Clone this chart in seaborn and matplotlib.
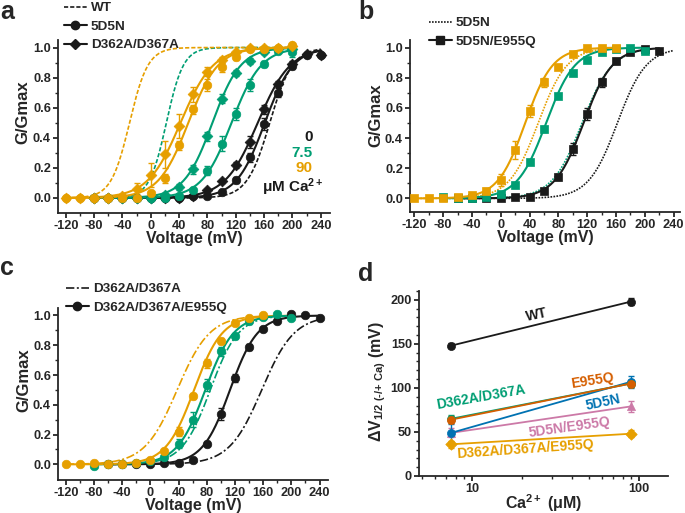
import numpy as np
import matplotlib
matplotlib.use("Agg")
import matplotlib.pyplot as plt
import seaborn as sns
from matplotlib.lines import Line2D
from matplotlib.ticker import MultipleLocator, FixedLocator, FixedFormatter, NullFormatter, LogLocator

# -----------------------------------------------
# colours
# -----------------------------------------------
ORANGE = "#E69F00"
GREEN = "#009E73"
BLACK = "#1a1a1a"
VERMIL = "#D55E00"
BLUE = "#0072B2"
PINK = "#CC79A7"

# -----------------------------------------------
# panel a data (G/Gmax vs voltage)
# -----------------------------------------------
a_v_orange = [-120, -100, -80, -60, -40, -20, 0, 20, 40, 60, 80, 100, 120, 140, 160, 180, 200]
a_d362_90 = [0, 0, 0, 0, 0.01, 0.06, 0.15, 0.29, 0.48, 0.69, 0.84, 0.92, 0.97, 1.0, 1.0, 1.0, 1.01]
a_d362_90_err = [0, 0, 0, 0, 0.01, 0.04, 0.08, 0.09, 0.08, 0.05, 0.03, 0.02, 0.01, 0, 0, 0, 0]
a_5d5n_90 = [0, 0, 0, 0, 0, 0, 0.03, 0.13, 0.35, 0.59, 0.75, 0.87, 0.94, 0.99, 0.99, 1.0, 1.02]
a_5d5n_90_err = [0, 0, 0, 0, 0, 0, 0.01, 0.03, 0.03, 0.03, 0.04, 0.03, 0.02, 0, 0, 0, 0]

a_v_green = [-80, -60, -40, -20, 0, 20, 40, 60, 80, 100, 120, 140, 160, 180, 200]
a_d362_7 = [0, 0, 0, 0, 0, 0.02, 0.07, 0.19, 0.41, 0.66, 0.83, 0.91, 0.97, 0.99, 0.99]
a_d362_7_err = [0, 0, 0, 0, 0, 0.01, 0.02, 0.03, 0.03, 0.03, 0.02, 0.02, 0.01, 0.01, 0.01]
a_5d5n_7 = [0, 0, 0, 0, 0, 0, 0.01, 0.05, 0.18, 0.36, 0.56, 0.75, 0.89, 0.98, 0.97]
a_5d5n_7_err = [0, 0, 0, 0, 0, 0, 0.01, 0.01, 0.03, 0.05, 0.04, 0.04, 0.02, 0.01, 0.03]

a_v_black = [-80, -60, -40, -20, 0, 20, 40, 60, 80, 100, 120, 140, 160, 180, 200, 220, 240]
a_d362_0 = [0, 0, 0, 0, 0, 0, 0, 0.01, 0.05, 0.11, 0.22, 0.37, 0.59, 0.76, 0.89, 0.96, 0.95]
a_d362_0_err = [0, 0, 0, 0, 0, 0, 0, 0, 0.01, 0.01, 0.02, 0.04, 0.03, 0.02, 0.02, 0.01, 0.01]
a_5d5n_0 = [0, 0, 0, 0, 0, 0, 0, 0.01, 0.01, 0.04, 0.12, 0.27, 0.49, 0.70, 0.88, 0.95, 0.95]
a_5d5n_0_err = [0, 0, 0, 0, 0, 0, 0, 0, 0.01, 0.01, 0.02, 0.03, 0.04, 0.03, 0.02, 0.01, 0.01]

# Boltzmann fit parameters: (V1/2 in mV, slope in mV)
a_fit_d362 = [(151, 23), (87, 20), (42, 23)]      # 0, 7.5, 90 uM Ca
a_fit_5d5n = [(161, 20), (114, 21), (53, 21)]
a_fit_wt = [(168, 16), (22, 12), (-30, 13)]

# -----------------------------------------------
# panel b data
# -----------------------------------------------
b_v_orange = [-120, -100, -80, -60, -40, -20, 0, 20, 40, 60, 80, 100, 120, 140, 160]
b_e955_90 = [0, 0, 0, 0.01, 0.02, 0.05, 0.12, 0.32, 0.58, 0.77, 0.87, 0.96, 1.0, 1.0, 1.0]
b_e955_90_err = [0, 0, 0, 0, 0.01, 0.02, 0.04, 0.06, 0.04, 0.03, 0.01, 0.01, 0, 0, 0]
b_v_green = [-80, -60, -40, -20, 0, 20, 40, 60, 80, 100, 120, 140, 160, 180, 200]
b_e955_7 = [0.01, 0, 0, 0.01, 0.03, 0.09, 0.24, 0.46, 0.68, 0.83, 0.92, 0.97, 0.99, 1.0, 0.98]
b_e955_7_err = [0, 0, 0, 0, 0.01, 0.01, 0.01, 0.02, 0.01, 0.01, 0.01, 0.01, 0, 0, 0]
b_v_black = [-60, -40, -20, 0, 20, 40, 60, 80, 100, 120, 140, 160, 180, 200, 220]
b_e955_0 = [0, 0, 0, 0, 0.01, 0.01, 0.05, 0.14, 0.33, 0.56, 0.77, 0.91, 0.97, 0.99, 0.98]
b_e955_0_err = [0, 0, 0, 0, 0, 0, 0.01, 0.02, 0.04, 0.04, 0.03, 0.02, 0.01, 0.01, 0.01]

b_fit_e955 = [(115, 20), (63, 20), (34, 19)]
b_fit_5d5n = [(162, 20), (113, 21), (52, 20)]

# -----------------------------------------------
# panel c data
# -----------------------------------------------
c_v_orange = [-120, -100, -80, -60, -40, -20, 0, 20, 40, 60, 80, 100, 120, 140, 160]
c_tri_90 = [0, 0, 0.01, 0, 0, 0.01, 0.03, 0.09, 0.22, 0.46, 0.68, 0.83, 0.95, 0.98, 1.0]
c_tri_90_err = [0, 0, 0, 0, 0, 0, 0.01, 0.01, 0.03, 0.02, 0.03, 0.02, 0.01, 0.01, 0]
c_v_green = [-80, -60, -40, -20, 0, 20, 40, 60, 80, 100, 120, 140, 160, 180, 200]
c_tri_7 = [-0.01, 0, 0, 0.01, 0.02, 0.05, 0.14, 0.30, 0.53, 0.76, 0.86, 0.96, 0.99, 1.01, 0.98]
c_tri_7_err = [0, 0, 0, 0, 0.01, 0.01, 0.03, 0.05, 0.04, 0.03, 0.02, 0.02, 0.01, 0.01, 0.01]
c_v_black = [-60, -40, -20, 0, 20, 40, 60, 80, 100, 120, 140, 160, 180, 200, 220, 240]
c_tri_0 = [0, 0, 0, 0, 0.01, 0.01, 0.03, 0.14, 0.34, 0.58, 0.79, 0.91, 0.96, 1.01, 1.0, 0.98]
c_tri_0_err = [0, 0, 0, 0, 0, 0, 0.01, 0.02, 0.04, 0.03, 0.02, 0.01, 0.01, 0.01, 0.01, 0.01]

c_fit_tri = [(113, 19.5), (78, 20), (62, 20)]
c_fit_d362 = [(158, 23), (85, 20), (38, 23)]

# -----------------------------------------------
# panel d data (delta V1/2 vs Ca)
# -----------------------------------------------
ca_conc = [7.5, 90]
d_names = ["WT", "D362A/D367A", "E955Q", "5D5N", "5D5N/E955Q", "D362A/D367A/E955Q"]
d_wt = [148, 198]
d_d362 = [65, 105]
d_e955 = [64, 105]
d_5d5n = [49, 107]
d_5d5n_e955 = [49, 79]
d_tri = [36, 48]
d_wt_err = [3, 4]
d_d362_err = [4, 4]
d_e955_err = [4, 4]
d_5d5n_err = [10, 7]
d_5d5n_e955_err = [5, 6]
d_tri_err = [4, 4]


def boltz(v, vh, k):
    return 1.0 / (1.0 + np.exp(-(v - vh) / k))


sns.set_style("ticks")
plt.rcParams["font.family"] = ["Liberation Sans", "DejaVu Sans"]
plt.rcParams["font.weight"] = "bold"
plt.rcParams["axes.labelweight"] = "bold"
plt.rcParams["axes.unicode_minus"] = False
plt.rcParams["mathtext.fontset"] = "custom"
plt.rcParams["mathtext.rm"] = "Liberation Sans:bold"
plt.rcParams["mathtext.bf"] = "Liberation Sans:bold"
plt.rcParams["mathtext.it"] = "Liberation Sans:bold"
plt.rcParams["mathtext.default"] = "rm"

TICK_FS = 9.2
LABEL_FS = 11.5
LEG_FS = 9.7

fig = plt.figure(figsize=(6.85, 5.13), dpi=100)
ax_a = fig.add_axes([58 / 685, 1 - 213 / 513, 272 / 685, 173 / 513])
ax_b = fig.add_axes([410 / 685, 1 - 212 / 513, 270 / 685, 172 / 513])
ax_c = fig.add_axes([58 / 685, 1 - 480 / 513, 270 / 685, 172 / 513])
ax_d = fig.add_axes([419 / 685, 1 - 476 / 513, 249 / 685, 185 / 513])


def style_axis(ax):
    sns.despine(ax=ax)
    for s in ["left", "bottom"]:
        ax.spines[s].set_linewidth(1.3)
    ax.tick_params(which="major", direction="out", length=3.6, width=1.3, labelsize=TICK_FS, pad=1.5)
    ax.tick_params(which="minor", direction="out", length=2.2, width=1.0)
    for lab in ax.get_xticklabels() + ax.get_yticklabels():
        lab.set_fontweight("bold")


def style_gv(ax, xlim, ylim, ylab_xy):
    ax.set_xlim(*xlim)
    ax.set_ylim(*ylim)
    ax.xaxis.set_major_locator(MultipleLocator(40))
    ax.xaxis.set_minor_locator(MultipleLocator(20))
    ax.yaxis.set_major_locator(FixedLocator([0, 0.2, 0.4, 0.6, 0.8, 1.0]))
    ax.yaxis.set_minor_locator(FixedLocator([0.1, 0.3, 0.5, 0.7, 0.9]))
    ax.set_yticklabels(["0.0", "0.2", "0.4", "0.6", "0.8", "1.0"])
    ax.set_xlabel("Voltage (mV)", fontsize=LABEL_FS, fontweight="bold", labelpad=-0.5)
    ax.set_ylabel("G/Gmax", fontsize=LABEL_FS + 0.5, fontweight="bold")
    ax.yaxis.set_label_coords(*ylab_xy)
    style_axis(ax)


def fit_line(ax, vrange, vh, k, color, lw=1.5, dashes=None):
    vv = np.linspace(vrange[0], vrange[1], 300)
    sns.lineplot(x=vv, y=boltz(vv, vh, k), color=color, linewidth=lw, ax=ax, zorder=2)
    line = ax.lines[-1]
    if dashes is not None:
        line.set_dashes(dashes)


def points(ax, v, g, err, color, marker, s=38):
    ax.errorbar(v, g, yerr=err, fmt="none", ecolor=color, elinewidth=1.0, capsize=2, capthick=1.0, zorder=3)
    sns.scatterplot(x=v, y=g, color=color, marker=marker, s=s, edgecolor=color, linewidth=0.5, ax=ax, zorder=4)


def top_legend(ax, handles, labels, x, y):
    ax.legend(handles, labels, loc="upper left", bbox_to_anchor=(x / 685, 1 - y / 513),
              bbox_transform=fig.transFigure, frameon=False, handlelength=1.7, handletextpad=0.3,
              labelspacing=0.45, borderpad=0, borderaxespad=0, prop=dict(weight="bold", size=LEG_FS))


# -----------------------------------------------
# panel a
# -----------------------------------------------
cols = [BLACK, GREEN, ORANGE]
ranges_a = [(-80, 240), (-80, 200), (-120, 200)]
for (vh, k), c, r in zip(a_fit_wt, cols, ranges_a):
    fit_line(ax_a, r, vh, k, c, lw=1.2, dashes=(2.5, 1.2))
for (vh, k), c, r in zip(a_fit_d362, cols, ranges_a):
    fit_line(ax_a, r, vh, k, c)
for (vh, k), c, r in zip(a_fit_5d5n, cols, ranges_a):
    fit_line(ax_a, r, vh, k, c)
points(ax_a, a_v_black, a_5d5n_0, a_5d5n_0_err, BLACK, "o")
points(ax_a, a_v_black, a_d362_0, a_d362_0_err, BLACK, "D", s=30)
points(ax_a, a_v_green, a_5d5n_7, a_5d5n_7_err, GREEN, "o")
points(ax_a, a_v_green, a_d362_7, a_d362_7_err, GREEN, "D", s=30)
points(ax_a, a_v_orange, a_5d5n_90, a_5d5n_90_err, ORANGE, "o")
points(ax_a, a_v_orange, a_d362_90, a_d362_90_err, ORANGE, "D", s=30)
style_gv(ax_a, (-131, 253), (-0.1, 1.05), (-0.1, 0.58))

fig.text(313 / 685, 1 - 137 / 513, "0", ha="right", va="center", color=BLACK, fontsize=11, fontweight="bold")
fig.text(313 / 685, 1 - 153 / 513, "7.5", ha="right", va="center", color=GREEN, fontsize=11, fontweight="bold")
fig.text(313 / 685, 1 - 168 / 513, "90", ha="right", va="center", color=ORANGE, fontsize=11, fontweight="bold")
fig.text(324 / 685, 1 - 192 / 513, "\u03bcM Ca$^{2+}$", ha="right", va="baseline", color=BLACK, fontsize=11, fontweight="bold")

leg_a = [Line2D([], [], color=BLACK, lw=1.2, dashes=(2.5, 1.2)),
         Line2D([], [], color=BLACK, lw=1.5, marker="o", ms=6),
         Line2D([], [], color=BLACK, lw=1.5, marker="D", ms=5.5)]
top_legend(ax_a, leg_a, ["WT", "5D5N", "D362A/D367A"], 64, 2)

# -----------------------------------------------
# panel b
# -----------------------------------------------
ranges_b = [(-60, 240), (-80, 200), (-120, 160)]
for (vh, k), c, r in zip(b_fit_5d5n, cols, ranges_b):
    fit_line(ax_b, r, vh, k, c, lw=1.2, dashes=(1, 0.8))
for (vh, k), c, r in zip(b_fit_e955, cols, ranges_b):
    fit_line(ax_b, (r[0], min(r[1], 220)), vh, k, c)
points(ax_b, b_v_black, b_e955_0, b_e955_0_err, BLACK, "s", s=32)
points(ax_b, b_v_green, b_e955_7, b_e955_7_err, GREEN, "s", s=32)
points(ax_b, b_v_orange, b_e955_90, b_e955_90_err, ORANGE, "s", s=32)
style_gv(ax_b, (-126, 249), (-0.09, 1.05), (-0.1, 0.56))

leg_b = [Line2D([], [], color=BLACK, lw=1.2, dashes=(1, 0.8)),
         Line2D([], [], color=BLACK, lw=1.5, marker="s", ms=5.5)]
top_legend(ax_b, leg_b, ["5D5N", "5D5N/E955Q"], 429, 17)

# -----------------------------------------------
# panel c
# -----------------------------------------------
ranges_c = [(-60, 240), (-80, 200), (-120, 160)]
for (vh, k), c, r in zip(c_fit_d362, cols, ranges_c):
    fit_line(ax_c, (r[0], 240 if c == BLACK else 200), vh, k, c, lw=1.2, dashes=(5, 1.5, 1.2, 1.5))
for (vh, k), c, r in zip(c_fit_tri, cols, ranges_c):
    fit_line(ax_c, r, vh, k, c)
points(ax_c, c_v_black, c_tri_0, c_tri_0_err, BLACK, "o")
points(ax_c, c_v_green, c_tri_7, c_tri_7_err, GREEN, "o")
points(ax_c, c_v_orange, c_tri_90, c_tri_90_err, ORANGE, "o")
style_gv(ax_c, (-131, 252), (-0.105, 1.05), (-0.1, 0.58))

leg_c = [Line2D([], [], color=BLACK, lw=1.2, dashes=(5, 1.5, 1.2, 1.5)),
         Line2D([], [], color=BLACK, lw=1.5, marker="o", ms=6)]
top_legend(ax_c, leg_c, ["D362A/D367A", "D362A/D367A/E955Q"], 66, 283)

# -----------------------------------------------
# panel d
# -----------------------------------------------
d_series = [
    (d_wt, d_wt_err, BLACK, "o"),
    (d_tri, d_tri_err, ORANGE, "D"),
    (d_5d5n_e955, d_5d5n_e955_err, PINK, "^"),
    (d_5d5n, d_5d5n_err, BLUE, "o"),
    (d_d362, d_d362_err, GREEN, "o"),
    (d_e955, d_e955_err, VERMIL, "o"),
]
for vals, err, c, m in d_series:
    sns.lineplot(x=ca_conc, y=vals, color=c, linewidth=1.3, ax=ax_d, zorder=2)
    ax_d.errorbar(ca_conc, vals, yerr=err, fmt="none", ecolor=c, elinewidth=1.0, capsize=2, zorder=3)
    sns.scatterplot(x=ca_conc, y=vals, color=c, marker=m, s=34, edgecolor=c, linewidth=0.5, ax=ax_d, zorder=4)

ax_d.set_xscale("log")
ax_d.set_xlim(4.8, 150)
ax_d.set_ylim(0, 210)
ax_d.xaxis.set_major_locator(FixedLocator([10, 100]))
ax_d.xaxis.set_major_formatter(FixedFormatter(["10", "100"]))
ax_d.xaxis.set_minor_locator(LogLocator(base=10, subs=np.arange(2, 10)))
ax_d.xaxis.set_minor_formatter(NullFormatter())
ax_d.yaxis.set_major_locator(MultipleLocator(50))
ax_d.yaxis.set_minor_locator(MultipleLocator(10))
ax_d.set_xlabel("Ca$^{2+}$ (\u03bcM)", fontsize=LABEL_FS, fontweight="bold", labelpad=-2)
ax_d.set_ylabel("\u0394V$_{1/2\\ \\text{(-/+ Ca)}}$ (mV)", fontsize=LABEL_FS, fontweight="bold")
ax_d.yaxis.set_label_coords(-0.125, 0.51)
style_axis(ax_d)

d_text = [
    ("WT", 24.5, 183, 12, BLACK),
    ("D362A/D367A", 11.3, 89, 10, GREEN),
    ("E955Q", 53, 108, 9, VERMIL),
    ("5D5N", 61, 83, 12, BLUE),
    ("5D5N/E955Q", 38.6, 55, 8, PINK),
    ("D362A/D367A/E955Q", 20.9, 30, 4, ORANGE),
]
for txt, x, y, rot, c in d_text:
    ax_d.text(x, y, txt, color=c, rotation=rot, ha="center", va="center", fontsize=10,
              fontweight="bold", rotation_mode="anchor")

# panel letters
for lab, x, y in [("a", 0, 0), ("b", 358, 0), ("c", 0, 256), ("d", 358, 262)]:
    fig.text(x / 685, 1 - y / 513, lab, ha="left", va="top", fontsize=18, fontweight="bold")

fig.savefig("out.png", dpi=100)
